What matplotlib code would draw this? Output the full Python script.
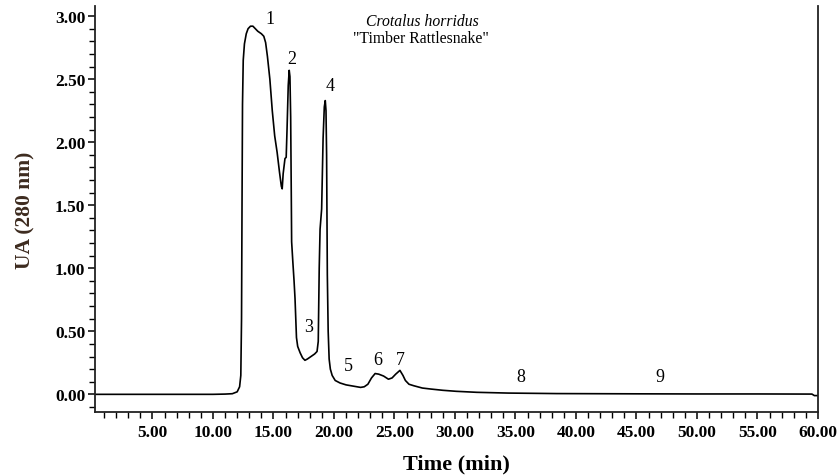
import matplotlib
matplotlib.use("Agg")
import matplotlib.pyplot as plt
from matplotlib.ticker import MultipleLocator, FormatStrFormatter

# ---- data ----
time_min = [0.25, 5.0, 10.0, 11.0, 11.6, 12.0, 12.2, 12.3, 12.36, 12.4, 12.44, 12.5,
            12.6, 12.75, 12.9, 13.1, 13.3, 13.5, 13.7, 13.85, 14.0, 14.2, 14.35,
            14.5, 14.7, 14.9, 15.1, 15.3, 15.5, 15.65, 15.72, 15.8, 15.95, 16.05,
            16.12, 16.22, 16.3, 16.36, 16.42, 16.47, 16.5, 16.6, 16.7, 16.78,
            16.9, 17.0, 17.2, 17.4, 17.6, 17.8, 18.1, 18.4, 18.6, 18.7, 18.78,
            18.85, 18.98, 19.1, 19.2, 19.28, 19.34, 19.39, 19.45, 19.52, 19.6,
            19.7, 19.85, 20.1, 20.5, 21.0, 21.6, 22.2, 22.5, 22.8, 23.1, 23.4,
            23.7, 24.1, 24.5, 24.8, 25.1, 25.45, 25.7, 25.9, 26.2, 26.6, 27.3,
            28.0, 29.0, 30.1, 31.8, 34.4, 38.4, 45.0, 50.0, 55.0, 59.5, 59.7, 60.0]
absorbance = [0.0, 0.0, 0.0, 0.002, 0.005, 0.02, 0.06, 0.15, 0.6, 1.5, 2.3, 2.65,
              2.78, 2.86, 2.90, 2.92, 2.92, 2.90, 2.88, 2.87, 2.86, 2.84, 2.79,
              2.68, 2.50, 2.25, 2.05, 1.92, 1.76, 1.65, 1.63, 1.75, 1.87, 1.88,
              2.10, 2.45, 2.57, 2.52, 2.20, 1.60, 1.21, 1.05, 0.90, 0.76,
              0.45, 0.38, 0.33, 0.29, 0.27, 0.28, 0.30, 0.32, 0.34, 0.42, 1.00,
              1.31, 1.47, 2.03, 2.28, 2.33, 2.25, 1.90, 0.95, 0.50, 0.28,
              0.20, 0.15, 0.11, 0.09, 0.075, 0.065, 0.055, 0.06, 0.08, 0.13, 0.165,
              0.16, 0.145, 0.12, 0.13, 0.16, 0.19, 0.15, 0.11, 0.08, 0.068, 0.05,
              0.042, 0.032, 0.024, 0.016, 0.010, 0.006, 0.004, 0.003, 0.003, 0.002, -0.01, -0.01]

peak_labels = ["1", "2", "3", "4", "5", "6", "7", "8", "9"]
peak_label_time = [14.7, 16.5, 17.9, 19.7, 21.2, 23.6, 25.5, 35.4, 46.9]
peak_label_ua = [2.98, 2.66, 0.54, 2.45, 0.23, 0.28, 0.28, 0.14, 0.14]

species = "Crotalus horridus"
common_name = '"Timber Rattlesnake"'
x_label = "Time (min)"
y_label = "UA (280 nm)"

# ---- figure ----
serif = ["Liberation Serif", "DejaVu Serif"]
plt.rcParams["font.family"] = serif

fig = plt.figure(figsize=(8.4, 4.77), dpi=100)
ax = fig.add_axes([0.1131, 0.1342, 0.8607, 0.8511])

ax.plot(time_min, absorbance, color="black", linewidth=1.2)

ax.set_xlim(0.25, 60.0)
ax.set_ylim(-0.14, 3.08)

ax.xaxis.set_major_locator(MultipleLocator(5))
ax.xaxis.set_minor_locator(MultipleLocator(1))
ax.yaxis.set_major_locator(MultipleLocator(0.5))
ax.yaxis.set_minor_locator(MultipleLocator(0.1))
ax.xaxis.set_major_formatter(FormatStrFormatter("%.2f"))
ax.yaxis.set_major_formatter(FormatStrFormatter("%.2f"))

ax.spines["top"].set_visible(False)
for s in ("left", "bottom", "right"):
    ax.spines[s].set_linewidth(1.3)
    ax.spines[s].set_color("#222222")

ax.tick_params(axis="both", which="major", direction="out", length=5, width=1.1,
               labelsize=12.5, pad=2)
ax.tick_params(axis="x", which="major", pad=4)
ax.tick_params(axis="both", which="minor", direction="out", length=4, width=1.0)
ax.tick_params(axis="y", which="both", right=False)
for lbl in ax.get_xticklabels() + ax.get_yticklabels():
    lbl.set_fontweight("bold")

ax.set_xlabel(x_label, fontsize=16, fontweight="bold", labelpad=9)
ax.set_ylabel(y_label, fontsize=15.5, fontweight="bold", color="#3d2b1f", labelpad=14)

for lab, t, u in zip(peak_labels, peak_label_time, peak_label_ua):
    ax.text(t, u, lab, ha="center", va="center", fontsize=13)

ax.text(27.3, 2.965, species, ha="center", va="center", fontsize=11.3, style="italic")
ax.text(27.2, 2.825, common_name, ha="center", va="center", fontsize=11.3)

fig.savefig("out.png", dpi=100)
